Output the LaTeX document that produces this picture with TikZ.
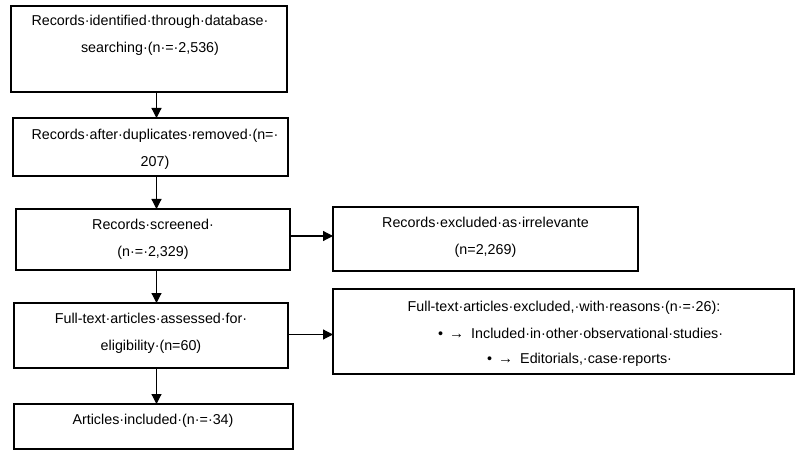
\documentclass[tikz,border=0pt]{standalone}
\usepackage{fontspec}
\setmainfont{Liberation Sans}
\usetikzlibrary{arrows.meta}
\begin{document}
\begin{tikzpicture}[x=1pt,y=-1pt,
  box/.style={draw,line width=1.2pt,inner sep=0pt,outer sep=0pt},
  txt/.style={align=center,inner sep=0pt,font=\fontsize{14.3}{27}\selectfont},
  arr/.style={line width=1.2pt,-{Triangle[width=10pt,length=10pt]}}]
\fill[white] (0,0) rectangle (800,454);
\useasboundingbox (0,0) rectangle (800,454);
% boxes
\node[box,minimum width=276pt,minimum height=86pt] (b1) at (149,49) {};
\node[box,minimum width=275pt,minimum height=58pt] (b2) at (150.5,147) {};
\node[box,minimum width=274pt,minimum height=61pt] (b3) at (153,239.5) {};
\node[box,minimum width=274pt,minimum height=65pt] (b4) at (151,335.5) {};
\node[box,minimum width=279pt,minimum height=45pt] (b5) at (153.5,426.5) {};
\node[box,minimum width=305pt,minimum height=64pt] (bA) at (485.5,239) {};
\node[box,minimum width=461pt,minimum height=85pt] (bB) at (563.5,331.5) {};
% texts
\node[txt] (t1) at (150,35) {Records·identified·through·database·\\searching·(n·=·2,536)};
\node[txt] (t2) at (155,149) {Records·after·duplicates·removed·(n=·\\207)};
\node[txt] (t3) at (153,239.5) {Records·screened·\\(n·=·2,329)};
\node[txt] (t4) at (151,333.5) {Full-text·articles·assessed·for·\\eligibility·(n=60)};
\node[txt] (t5) at (153,421) {Articles·included·(n·=·34)};
\node[txt] (tA) at (485.5,237.5) {Records·excluded·as·irrelevante\\(n=2,269)};
\node[txt] (tB1) at (564,307.5) {Full-text·articles·excluded,·with·reasons·(n·=·26):};
\node[txt,anchor=west] (tB2) at (438,333) {•\hspace{6pt}{\fontsize{15}{15}\selectfont →}\hspace{7pt}Included·in·other·observational·studies·};
\node[txt,anchor=west] (tB3) at (487,360) {•\hspace{6pt}{\fontsize{15}{15}\selectfont →}\hspace{7pt}Editorials,·case·reports·};
% connectors
\coordinate (ax) at (156.5,0);
\draw[arr] (b1.south -| ax) -- (b2.north -| ax);
\draw[arr] (b2.south -| ax) -- (b3.north -| ax);
\draw[arr] (b3.south -| ax) -- (b4.north -| ax);
\draw[arr] (b4.south -| ax) -- (b5.north -| ax);
\coordinate (hy1) at (0,236);
\coordinate (hy2) at (0,334.5);
\draw[arr] (b3.east |- hy1) -- (bA.west |- hy1);
\draw[arr] (b4.east |- hy2) -- (bB.west |- hy2);
\end{tikzpicture}
\end{document}
